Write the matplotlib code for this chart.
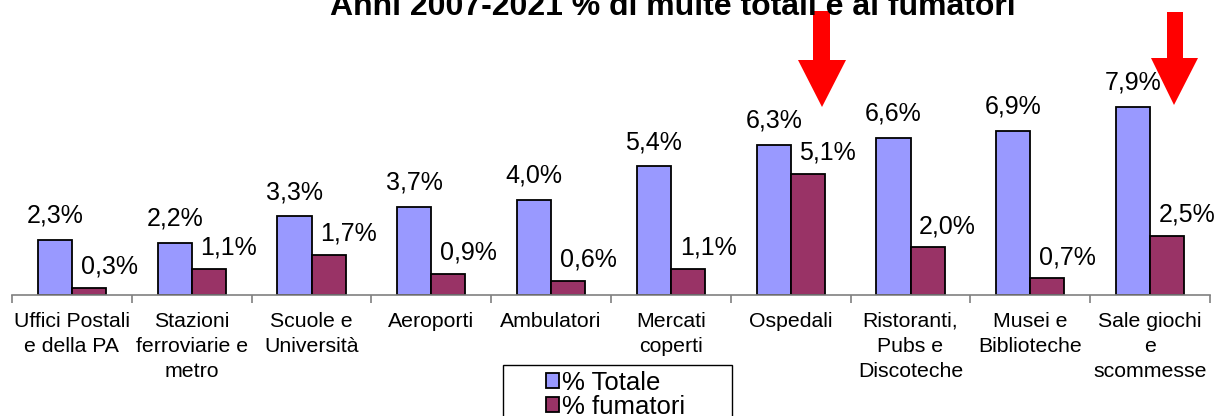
import matplotlib
matplotlib.use('Agg')
import matplotlib.pyplot as plt
import numpy as np
from matplotlib.patches import Polygon, Rectangle

plt.rcParams['font.family'] = ['Liberation Sans', 'DejaVu Sans']

# dati
categorie = ['Uffici Postali\ne della PA', 'Stazioni\nferroviarie e\nmetro', 'Scuole e\nUniversità',
             'Aeroporti', 'Ambulatori', 'Mercati\ncoperti', 'Ospedali',
             'Ristoranti,\nPubs e\nDiscoteche', 'Musei e\nBiblioteche', 'Sale giochi\ne\nscommesse']
totale = [2.3, 2.2, 3.3, 3.7, 4.0, 5.4, 6.3, 6.6, 6.9, 7.9]
fumatori = [0.3, 1.1, 1.7, 0.9, 0.6, 1.1, 5.1, 2.0, 0.7, 2.5]
titolo = 'Anni 2007-2021 % di multe totali e ai fumatori'

W, H = 1217, 416
fig = plt.figure(figsize=(W / 100, H / 100), dpi=100)


def fx(px):
    return px / W


def fy(py):
    return 1 - py / H


ax = fig.add_axes([fx(12), fy(295), fx(1210) - fx(12), (295 - 57) / H])

x = np.arange(len(categorie))
w = 0.284
b1 = ax.bar(x - w / 2, totale, w, color='#9999FF', edgecolor='black', linewidth=1.3, label='% Totale')
b2 = ax.bar(x + w / 2, fumatori, w, color='#993366', edgecolor='black', linewidth=1.3, label='% fumatori')

for xi, v in zip(x, totale):
    ax.annotate(f'{v:.1f}%'.replace('.', ','), (xi - w / 2, v), xytext=(0, 12.5),
                textcoords='offset points', ha='center', va='baseline', fontsize=18)
for xi, v in zip(x, fumatori):
    ax.annotate(f'{v:.1f}%'.replace('.', ','), (xi + w / 2, v), xytext=(14.5, 10),
                textcoords='offset points', ha='center', va='baseline', fontsize=18)

ax.set_xlim(-0.5, len(categorie) - 0.5)
ax.set_ylim(0, 10)
ax.set_yticks([])
for s in ['top', 'right', 'left']:
    ax.spines[s].set_visible(False)
ax.spines['bottom'].set_color('#808080')
ax.spines['bottom'].set_linewidth(1.2)
ax.set_xticks(x)
ax.set_xticklabels(categorie, fontsize=15.3)
for lbl in ax.get_xticklabels():
    lbl.set_linespacing(1.4)
ax.set_xticks(np.arange(-0.5, len(categorie)), minor=True)
ax.tick_params(axis='x', which='major', length=0, pad=12)
ax.tick_params(axis='x', which='minor', length=6, color='#808080', width=1.2, direction='out')

# titolo (tagliato in alto come nell'originale)
fig.text(fx(673), fy(15), titolo, ha='center', va='baseline', fontsize=23, fontweight='bold')

# frecce rosse
for sx0, sx1, top, base, hx0, hx1, tipx, tipy in [(813, 830, 11, 60, 798, 846, 822, 107),
                                                  (1167, 1183, 12, 58, 1151, 1198, 1174, 105)]:
    pts = [(sx0, top), (sx1, top), (sx1, base), (hx1, base), (tipx, tipy), (hx0, base), (sx0, base)]
    fig.patches.append(Polygon([(fx(a), fy(b)) for a, b in pts], closed=True, facecolor='#FF0000',
                               edgecolor='none', transform=fig.transFigure, figure=fig))

# legenda
fig.patches.append(Rectangle((fx(503), fy(430)), fx(732) - fx(503), (430 - 365) / H, facecolor='white',
                             edgecolor='black', linewidth=1, transform=fig.transFigure, figure=fig))
fig.legend(handles=[b1, b2], loc='upper left', bbox_to_anchor=(fx(525), fy(350)), frameon=False,
           fontsize=18.5, handlelength=0.52, handleheight=0.52, handletextpad=0.12,
           labelspacing=0.0, borderpad=0.3)

fig.savefig('out.png', dpi=100)
